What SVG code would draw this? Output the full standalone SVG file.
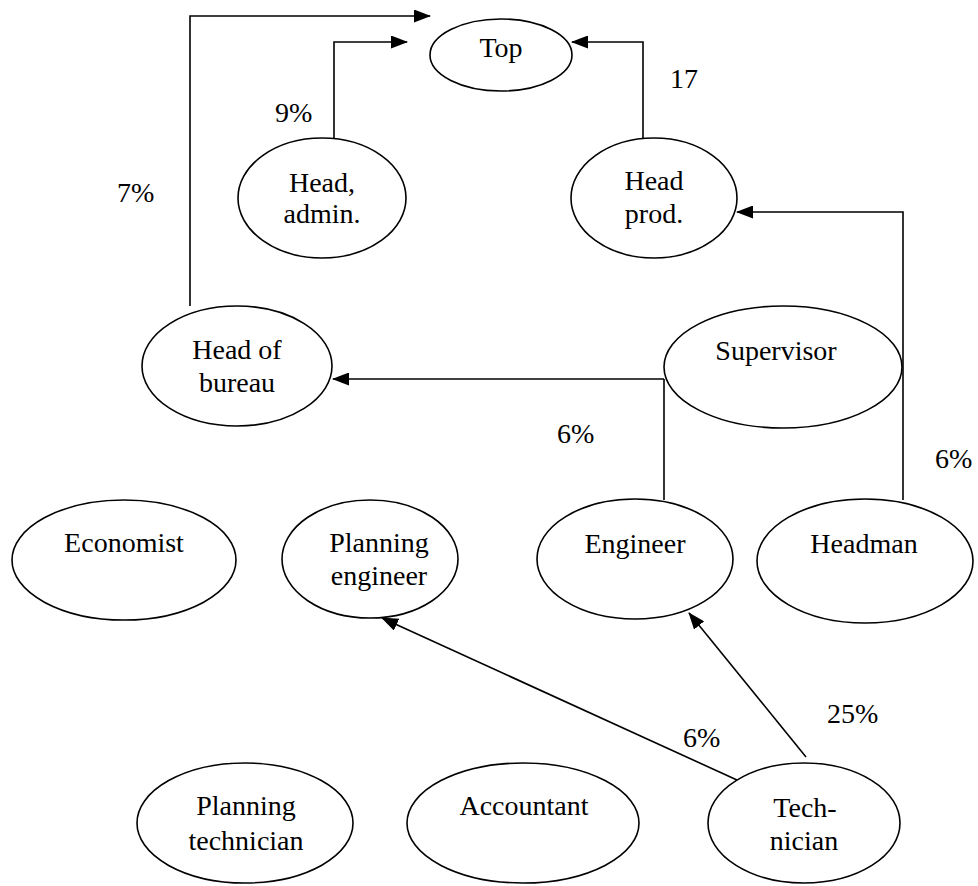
<svg xmlns="http://www.w3.org/2000/svg" width="978" height="886" viewBox="0 0 978 886">
<style>
  .n ellipse { fill: #fff; stroke: #000; stroke-width: 1.6; }
  text { font-family: "Liberation Serif", "DejaVu Serif", serif; font-size: 28px; fill: #000; }
  .n text { text-anchor: middle; }
  .c path { fill: none; stroke: #000; stroke-width: 1.6; marker-end: url(#ah); }
  .c path.plain { marker-end: none; }
</style>
<defs>
  <marker id="ah" markerWidth="17" markerHeight="13" refX="16" refY="6.5" orient="auto" markerUnits="userSpaceOnUse">
    <path d="M0,0 L17,6.5 L0,13 z" fill="#000"/>
  </marker>
</defs>
<rect width="978" height="886" fill="#fff"/>

<g id="connectors" class="c">
  <path d="M190,306 V16 H430"/>
  <path d="M334,138 V42 H407"/>
  <path d="M643,138 V42 H572"/>
  <path d="M903,500 V212 H737"/>
  <path d="M664,379 H333"/>
  <path class="plain" d="M664,500 V379"/>
  <path d="M806,757 L689,613"/>
  <path d="M737,780 L382,618"/>
</g>

<g id="node-top" class="n">
  <ellipse cx="501" cy="55" rx="71" ry="36"/>
  <text x="501" y="57">Top</text>
</g>
<g id="node-head-admin" class="n">
  <ellipse cx="322" cy="198" rx="84" ry="60"/>
  <text x="322" y="192">Head,</text>
  <text x="322" y="223">admin.</text>
</g>
<g id="node-head-prod" class="n">
  <ellipse cx="654" cy="198" rx="83" ry="60"/>
  <text x="654" y="190">Head</text>
  <text x="654" y="223">prod.</text>
</g>
<g id="node-head-bureau" class="n">
  <ellipse cx="237" cy="366" rx="95" ry="60"/>
  <text x="237" y="359">Head of</text>
  <text x="237" y="392">bureau</text>
</g>
<g id="node-supervisor" class="n">
  <ellipse cx="783" cy="367" rx="119" ry="61"/>
  <text x="776" y="360">Supervisor</text>
</g>
<g id="node-economist" class="n">
  <ellipse cx="124" cy="560" rx="112" ry="60"/>
  <text x="124" y="552">Economist</text>
</g>
<g id="node-planning-engineer" class="n">
  <ellipse cx="370" cy="559" rx="88" ry="59"/>
  <text x="379" y="552">Planning</text>
  <text x="379" y="585">engineer</text>
</g>
<g id="node-engineer" class="n">
  <ellipse cx="635" cy="559" rx="98" ry="60"/>
  <text x="635" y="553">Engineer</text>
</g>
<g id="node-headman" class="n">
  <ellipse cx="865" cy="561" rx="108" ry="62"/>
  <text x="864" y="553">Headman</text>
</g>
<g id="node-planning-technician" class="n">
  <ellipse cx="245" cy="823" rx="108" ry="60"/>
  <text x="246" y="815">Planning</text>
  <text x="246" y="850">technician</text>
</g>
<g id="node-accountant" class="n">
  <ellipse cx="523" cy="823" rx="116" ry="60"/>
  <text x="524" y="815">Accountant</text>
</g>
<g id="node-technician" class="n">
  <ellipse cx="804" cy="823" rx="96" ry="60"/>
  <text x="805" y="817">Tech-</text>
  <text x="804" y="850">nician</text>
</g>

<g id="labels">
  <text x="670" y="88">17</text>
  <text x="275" y="122">9%</text>
  <text x="117" y="202">7%</text>
  <text x="557" y="443">6%</text>
  <text x="935" y="468">6%</text>
  <text x="827" y="723">25%</text>
  <text x="683" y="747">6%</text>
</g>
</svg>
